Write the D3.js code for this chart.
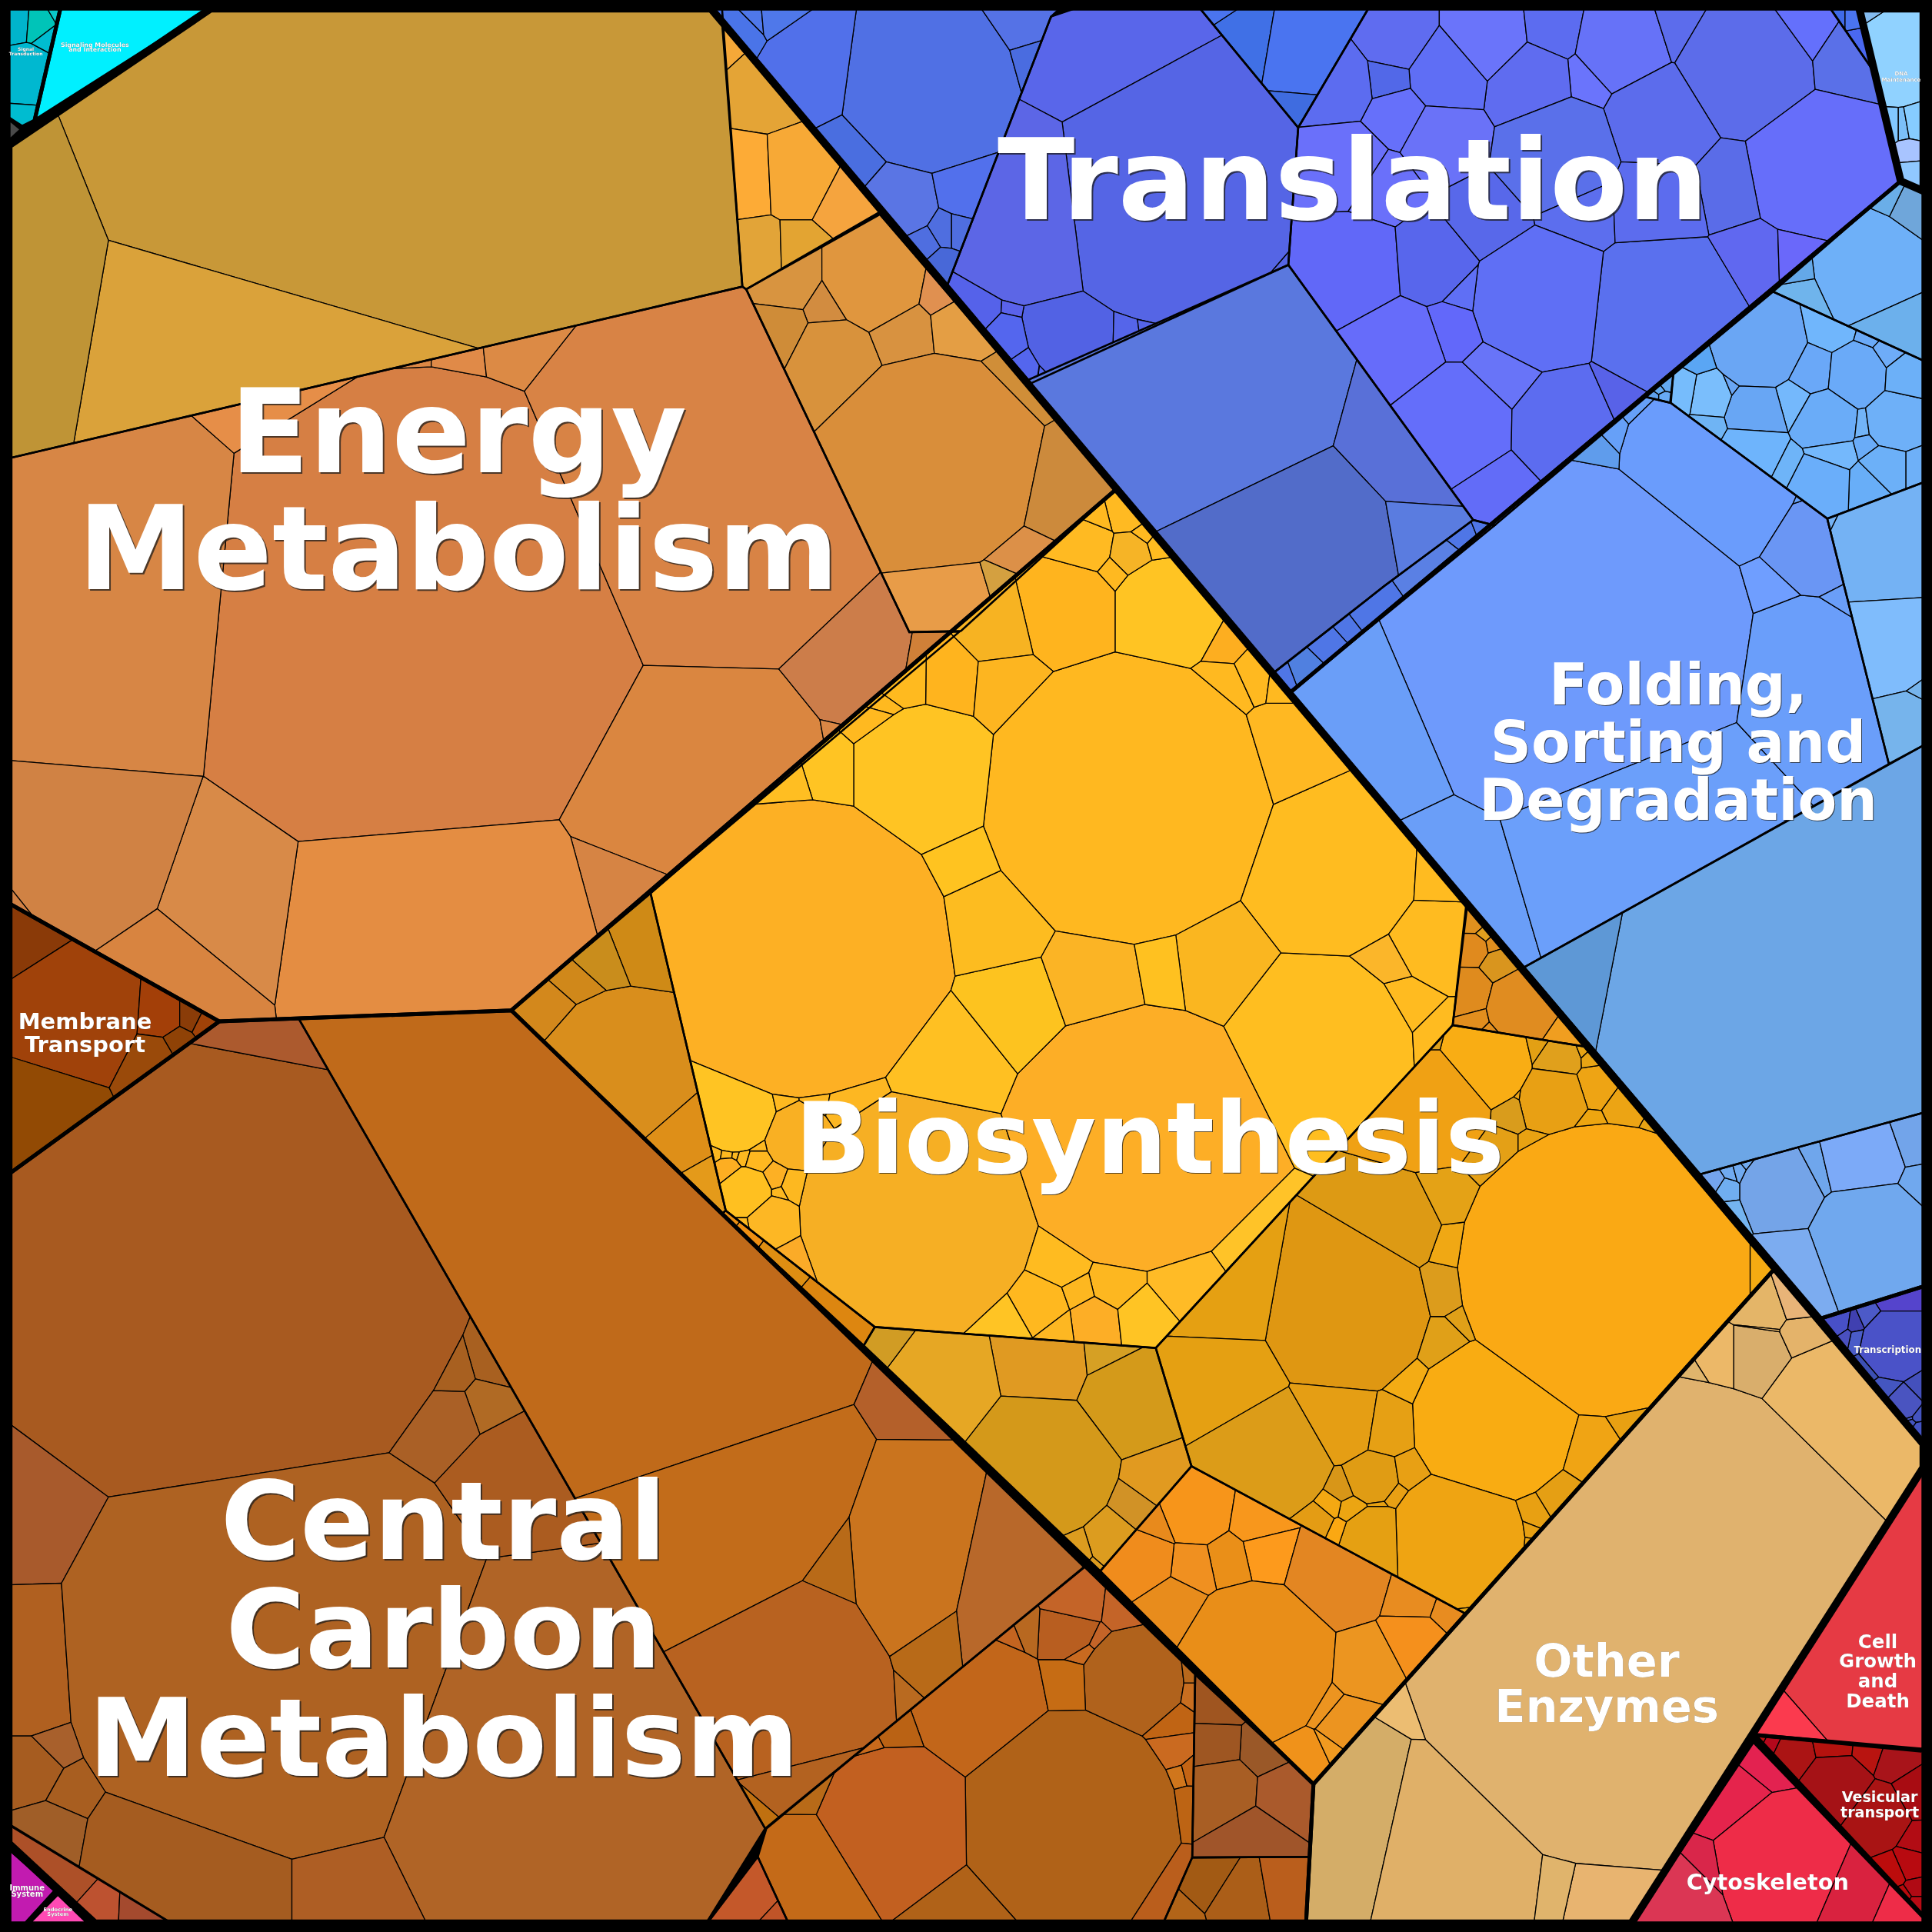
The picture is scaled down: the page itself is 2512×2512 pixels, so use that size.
<!DOCTYPE html>
<html>
<head>
<meta charset="utf-8">
<title>Voronoi treemap</title>
<script src="https://cdn.jsdelivr.net/npm/d3@7"></script>
<style>
  html, body { margin: 0; padding: 0; background: #000; }
  svg { display: block; }
  text { font-family: "DejaVu Sans", sans-serif; font-weight: bold; text-anchor: middle; }
</style>
</head>
<body>
<svg id="chart" width="2512" height="2512"></svg>
<script>
// picture units are 0..1568, a site is [x, y, r] of a power diagram cell
// its weight is r*|r|, so a negative r just means a negative weight

// ---- labels
var labelLines = [["Translation"], ["Energy", "Metabolism"], ["Central", "Carbon", "Metabolism"], ["Biosynthesis"],
    ["Folding,", "Sorting and", "Degradation"], ["Other", "Enzymes"], ["Membrane", "Transport"], ["Cell", "Growth", "and", "Death"],
    ["Vesicular", "transport"], ["Cytoskeleton"], ["Transcription"], ["DNA", "Maintenance"], ["Immune", "System"],
    ["Endocrine", "System"], ["Signaling Molecules", "and Interaction"], ["Signal", "Transduction"]];
var labelCenters = [1098, 372, 360, 933, 1362, 1304, 69, 1524, 1525.6, 1434.6, 1532, 1543, 22, 47, 77, 21];
var labelBaselines = [178, 383, 1265, 952, 572, 1361, 835, 1337.6, 1462.7, 1533.6, 1098, 61, 1534, 1551, 38, 41];
var labelSizes = [147, 151, 141, 129, 74, 59, 29, 24.5, 19.2, 28.7, 11.8, 7, 10, 6.7, 7.9, 6];
var labelLeading = [0, 152, 141, 0, 75, 59, 30, 25.6, 19.2, 0, 0, 8, 8, 6.4, 6.4, 6];

// ---- big dividing lines
var metabolismBorder = [[7,118],[171,7],[577,7],[1561,1172],[1561,1191],[1324,1561],[77,1561],[7,1496]];
var energyBorder = [[7,118],[171,7],[577,7],[906,397],[415,820],[178,829],[7,733]];
var membraneBorder = [[7,733],[178,829],[7,953]];
var carbonBorder = [[7,953],[178,829],[415,820],[1066,1448],[1060,1561],[77,1561],[7,1500]];
var biosynthesisBorder = [[906,397],[1440,1030],[1066,1448],[415,820]];
var enzymesBorder = [[1440,1030],[1561,1172],[1561,1191],[1324,1561],[1060,1561],[1066,1448]];
var translationBorder = [[577,7],[1509,7],[1542.6,147],[1046,563]];
var foldingBorder = [[1046,563],[1542.6,147],[1561,155],[1561,1044],[1478,1070]];
var transcriptionBorder = [[1478,1070],[1561,1044],[1561,1172]];
var dnaBorder = [[1509,7],[1561,7],[1561,155],[1542.6,147]];
var growthBorder = [[1561,1191],[1561,1420],[1423,1408]];
var vesicularBorder = [[1424,1408],[1561,1421],[1561,1555]];
var cytoskeletonBorder = [[1423,1413],[1561,1556],[1561,1561],[1324,1561]];
var signalBorder = [[7,7],[49,7],[28,98],[18,103],[7,96]];
var moleculesBorder = [[49,7],[171,7],[28,98]];
var greyBorder = [[7,96],[18,105],[7,115]];
var immuneBorder = [[7.7,1500],[45,1534.5],[21,1561],[7.7,1561]];
var endocrineBorder = [[47,1536.7],[72,1561],[23,1561]];

// ---- energy metabolism
var goldOutline = [[7,118],[171,7],[586,7],[602.5,232.6],[7,372]];
var goldSites = [[320,120,237.9],[272.4,283,197.2],[21.5,240,60]];
var goldTones = ["#c89838","#daa23a","#bf9436"];

var amberOutline = [[586,18],[714,172],[605.6,234.8],[602.5,232.6]];
var amberSites = [[620.5,66.6,18],[607.7,147.7,16],[649,145.7,24],[684,164,15],[615.7,204,14],[649,203,10],[587,30,3]];
var amberTones = ["#e4a436","#fdab36","#f7a936","#f5a43e","#e2a438","#e3a432","#f5a838"];

var ochreOutline = [[605.6,234.8],[714,174],[906,397],[780,512],[738,513]];
var ochreSites = [[636.4,229,17],[711.2,228.9,36],[762,239,10],[673,252.8,4],[631.6,268.4,16],[676.2,291.3,30],
    [733.5,268.4,20],[776.5,264.2,17],[758,375,85],[855,395,28],[812,322,12],[770,485,26],[826,456,8],[820,470,4]];
var ochreTones = ["#d89440","#e0963e","#e09050","#d28c40","#cf8c38","#d8923c",
    "#d89240","#e49e44","#d98e3a","#cc8a3c","#d08e38","#e89c48","#dc9048","#d4a040"];

var copperOutline = [[7,372],[602.5,232.6],[605.6,234.8],[738,513],[778.8,512.6],[415,820],[178,829],[7,733]];
var copperSites = [[335,490,200.2],[573.7,386.5,169.8],[81.3,466,159.8],[221.7,307,94],[325,270,65.4],[375,270,65.4],[420,265,70],
    [567.5,616.5,102.6],[694.3,513.4,75.5],[760,525,64],[675,597,12],[530,712,36],[357.4,759,115.3],[168.3,732,45],[62.4,695.3,79.8],
    [124,786,51.9],[0,745,59]];
var copperTones = ["#d67f44","#d88345","#d78645","#e68e48","#dc8845","#e08a48","#dc8a45",
    "#da8640","#cc7d4a","#d08038","#d98745","#d68444","#e48d42","#d88a48","#d08244",
    "#d88440","#d08044"];

// ---- membrane transport
var membraneSites = [[28,770,15],[60,820,50],[35,900,30],[132,825,12],[155,825,6],[165,830,4],[145,845,6],[128,855,7]];
var membraneTones = ["#8a3a08","#a0420a","#924a04","#a33f08","#8a3c08","#a04208","#8f4206","#9a4a0a"];

// ---- central carbon metabolism
var sepiaOutline = [[7,953],[178,829],[242,826],[621,1484],[573,1561],[139,1561],[7,1481]];
var sepiaSites = [[190,1030,204],[225.5,843.4,109],[32.9,1242.3,28],[37,1370,78],[241.5,1356,201.1],[467,1439,210],[437.3,1221,111],
    [408,1117,80.3],[400,1150,84.3],[372,1160,84.4],[373,1127,78.6],[420,1140,80],[54.9,1422,74],[37,1440,74.4],[76,1461.8,81.2],
    [56.3,1507.8,87.2],[178.8,1530,144.4],[283,1530,140]];
var sepiaTones = ["#a85a20","#ac5a2e","#a85a2c","#b06020","#ae6222","#b06426","#ab5c20",
    "#a86020","#b06a24","#aa6026","#a86020","#aa5e22","#a8602c","#a65c20","#a85e20",
    "#a05e28","#a55c20","#ae5e24"];

var rustOutline = [[7.7,1480.7],[139,1560.6],[77,1560.6],[7.7,1500]];
var rustSites = [[50,1520,12],[85.5,1552,5],[108,1553,6]];
var rustTones = ["#ad5028","#bd5230","#a44a2e"];

var caramelOutline = [[242,826],[415,820],[880,1272],[621,1484]];
var caramelSites = [[475,1030,190],[551.6,1257.5,101.6],[730.8,1320.8,22],[732.3,1140.3,-148.3],[833.4,1343,52.5],[647.2,1327.6,42],[620,1391,111.4],
    [752,1352,28.4],[722,1385,31],[635,1450,102.2],[620.7,1466.7,100.1]];
var caramelTones = ["#c06a1a","#c26c1a","#ca741e","#b4602a","#b8682a","#b86a18","#b86220",
    "#b86a18","#b96a20","#b36220","#c07010"];

var umberOutline = [[622,1484],[880,1271.5],[970,1359],[967.6,1507.5],[944,1561],[640,1561],[615,1507]];
var umberSites = [[795.2,1381.6,50],[870,1475,85],[724.2,1477,58],[663.3,1514.7,36],[920.4,1364.9,40],[868,1321,20],
    [873,1298.3,22],[906.8,1302.5,9],[876.4,1334.8,4],[882.5,1328,2],[868,1367,11],[828,1319,4],[820.6,1322,2],
    [947.4,1396,14],[950.8,1421,13],[956,1438.8,4],[964,1436.7,3.5],[962.7,1462.7,5],[964,1372,3.5],[964,1360,3],
    [955,1530,10],[722,1408,4.5],[707,1416,3],[664,1451,3],[782,1554,7]];
var umberTones = ["#c2661a","#b06218","#c26020","#c46a18","#b0621c","#b85e20",
    "#c46428","#c46428","#c86a20","#c46428","#c66c14","#b86820","#c46420",
    "#c06414","#ca6a20","#d0761c","#c46414","#bd6414","#c86e20","#b8681c",
    "#ba5e1c","#ba6214","#c86a1c","#b86a18","#b06218"];

var brickOutline = [[615,1507],[640,1561],[574,1561]];
var brickSites = [[610,1540,18],[624,1553,5]];
var brickTones = ["#c4582a","#c05428"];

var boxOutline = [[970,1359],[1066,1448],[1062.6,1507],[967.6,1507.5]];
var boxSites = [[991.4,1381.5,13],[1025,1421,17],[990,1418.9,15],[995,1452,24],[1041,1455,20],[1017,1490,20]];
var boxTones = ["#9f5520","#9a5828","#9e5622","#a85e24","#aa5a2c","#a0552a"];

var footOutline = [[967.6,1507.5],[1062.6,1507],[1060,1561],[944,1561]];
var footSites = [[981.3,1525,17],[954,1554,7],[1005,1540,20],[1045.5,1533,16]];
var footTones = ["#a25a14","#b26418","#ab5e18","#ba5e1c"];

// ---- biosynthesis
var yellowOutline = [[528,725],[906,397],[1191,733],[1179,832],[938,1094],[710,1077],[589,982.5]];
var yellowSites = [[915,648,115],[650,770,120],[745,985,95],[925,925,105],[1075,850,70],[750,630,55],[1082,705,65],
    [770,860,40],[820,820,32],[890,795,30],[804,748,32],[782,700,14],[985,780,28],[946,785,12],[1163,765,27],
    [1135,815,18],[1127,785,10],[1165,845,8],[1165,710,5],[1040,610,32],[948,497,43],[867,497,38],[812,510,25],
    [770,551.4,19],[734,551,18],[881.8,443,18],[915,414,14],[918,449.4,14],[940,443.2,6],[993,522,11],[990.5,557.6,16],
    [1018,545,9],[817.7,555.5,22],[905,462.5,3],[891,420,3],[929,434,2.5],[1040,548,3],[717,575,3],[672,630,14],
    [640,640,12],[715,582,5],[596,902,33],[646.8,922.6,25],[632.5,893.7,3],[665.8,890.6,7],[686.7,894.7,14],
    [581.8,935,3],[590,936.4,4],[597.3,937.5,2.5],[603.5,939.5,5],[613.7,942.6,8],[613.7,930,3],[591,948.9,9],
    [628.4,956,8],[605.6,967.5,20],[643,961.4,8],[631.8,967.5,2.5],[626,990.5,19],[643,1021.8,7],[605.6,994.4,2.5],
    [860.9,1021.6,20],[905.4,1040.3,17],[961,1040,23],[1007,1007,9],[843.3,1059,20],[824,1070,10],[875,1047.6,7],
    [888,1071.5,15],[929.3,1067,17],[856,1075.7,9]];
var yellowTones = ["#ffb820","#fdb024","#f6af24","#fdae26","#ffbe20","#ffc423","#ffbc20",
    "#ffc022","#fdc31f","#fbb425","#fdbc20","#ffc320","#fab620","#ffc120","#ffbb20",
    "#ffbb20","#fbb62a","#ffbb20","#ffbb20","#ffb822","#ffc423","#ffb41e","#f7b322",
    "#ffb41e","#ffba1f","#ffba22","#ffba22","#f6b426","#ffbc20","#fdae20","#ffb920",
    "#ffb920","#fdb520","#ffb920","#ffb920","#ffb920","#ffb920","#ffb920","#ffc423",
    "#ffbe22","#ffb920","#ffc423","#f9b023","#ffb920","#fdb722","#fdb722",
    "#fdb820","#fdb820","#fdb820","#fdb820","#ffb820","#fdb820","#fdae22",
    "#fdb024","#ffc020","#fdb820","#fdb820","#fdb724","#fbab28","#fdb820",
    "#ffbb20","#fdb720","#ffbb26","#ffc328","#ffb81f","#ffc424","#fdb720",
    "#fdae26","#ffc424","#fdb722"];

var mustardOutline = [[415,820],[528,725],[589,982.5],[586,985]];
var mustardSites = [[497,865,52],[560,937.4,8],[572.3,959,15],[513,757,13],[480,770,15],[462,790,5],[440,815,11]];
var mustardTones = ["#d98e1c","#de8f18","#e49a1a","#cf8a16","#c98d1c","#d0881a","#d3881c"];

var seamOutline = [[589,982.5],[710,1077],[701,1092],[586,985]];
var seamSites = [[593,988,3],[605.5,998.7,4],[632.5,1019.5,8],[678.5,1059,10]];
var seamTones = ["#e98e12","#ef8f12","#de8e12","#dd8610"];

var honeyOutline = [[710,1077],[938,1094],[967,1190],[893,1275],[701,1092]];
var honeySites = [[849.7,1108,27],[900,1103,9],[916.6,1136,34],[845,1190,55],[762,1125,36],[942,1206,14],[927.7,1226,8],
    [904,1254.6,17],[877,1263,4],[888,1273,4],[710,1086,3]];
var honeyTones = ["#e09a22","#d6a024","#d49a1a","#d4991a","#e6a724","#e19a20","#d19226",
    "#dc9c1f","#dc9c1f","#dc9c1f","#d19c24"];

var saffronOutline = [[938,1094],[1179,832],[1290,850],[1440,1030],[1190,1310],[967,1190]];
var saffronSites = [[1302,1030,118],[1212.8,1152.7,65],[1182.5,1250.4,55],[1117.2,1252.5,30],[1093.4,1065.3,65],
    [999.4,1048.6,40],[996.2,1121.5,37],[1031,1181.8,48],[1085.4,1150.6,33],[1125.2,1157,20],[1114,1200.5,19],
    [1171,1090,15],[1171.4,1047.6,14],[1179.3,1011,7],[1187.3,1073.6,2.5],[1142.7,1120.4,4],[1292.4,1175.6,19],
    [1265.3,1217,10],[1244.6,1229.7,7],[1239.8,1242,4],[1238,1254.6,5],[1225,1269,3],[1212.7,1278.6,4],[1203,1287,5],
    [1187.3,1296.2,9],[1163.4,1290,7],[1149,1284,3],[1088.6,1243,9],[1098,1226.5,10],[1117.2,1223,2.5],[1081,1223,5],
    [1071,1235,9],[1090,1210,5],[1143,1196,5],[1130,1213,4],[1135,995,30],[1204.8,861.5,37],[1265,861.5,18],
    [1249.5,851,8],[1293.2,882.3,17],[1290,860.4,6],[1284,854,3],[1260.9,892.7,28],[1227.6,901,10],[1234,889,4],
    [1163,851,4],[1163,897,45],[1319,901,16],[1215,935,14],[1175,975,8],[1250,935,15],[1290,915,13],[1436,1030,12],
    [1340,913,6],[1327,1153,13]];
var saffronTones = ["#faa914","#f9ac12","#efa412","#e5a012","#df9712",
    "#e5a012","#e5a012","#dc9c18","#e59e14","#e6a014","#e09c14",
    "#e0a018","#dc9c1c","#f0a814","#e0a018","#f4ac14","#f0a414",
    "#e59f14","#e8a012","#e8a012","#e8a012","#e8a012","#e8a012","#e8a012",
    "#e6a812","#d89a1c","#e6a012","#fba812","#eca512","#e6a012","#f4a812",
    "#e49c14","#d89618","#e8a014","#e8a014","#dd9a14","#f9ad14","#e0a01c",
    "#e3a014","#eea414","#e8a414","#e8a414","#e8a014","#d99c1c","#eea414",
    "#dea01c","#f0a114","#eca414","#e4a016","#e4a216","#e8a212","#eda510","#f5ab12",
    "#e6a314","#e8a012"];

var tangerineOutline = [[1190,734],[1290,850],[1179,832]];
var tangerineSites = [[1195.4,749,8],[1203.7,758.5,5],[1211,766.8,5],[1195,770,12],[1217,784.5,13],[1194,805.3,18],
    [1199,824,9],[1234,815.7,28],[1271,841,8],[1211,836,2.5]];
var tangerineTones = ["#e0901e","#e09f1e","#e08e1e","#e08a1e","#d9951e","#df8b1e",
    "#e28e1e","#e08c20","#f09e20","#e28e1e"];

var orangeOutline = [[967,1190],[1190,1310],[1066,1448],[893,1275]];
var orangeSites = [[970.7,1225.5,24],[1023.3,1234,18],[1029.6,1259.8,18],[997.8,1267,14],[967.5,1273.4,15],[926,1269,24],
    [937.3,1239,5],[950.8,1306.8,25],[1018.7,1348,62],[1085.4,1275.5,38],[1149,1293.8,12],[1177.7,1304,5],[1110,1355,24],
    [1148,1335,18],[1060,1429.6,15],[1098,1400,22],[1080,1385,5],[1085,1418,8]];
var orangeTones = ["#f7951a","#f8971c","#fd9a1c","#ea8f18","#f09020","#f08c1c",
    "#e88a1c","#e88c1c","#e98e18","#e38622","#e88c20","#e88c20","#ec9520",
    "#f5901c","#f0921a","#ec9420","#ec9420","#f09a20"];

// ---- other enzymes
var enzymesSites = [[1330,1310,185],[1482.3,1155,-57.1],[1404,1097.6,-65.7],[1381.7,1097.6,-60.7],[1410,1050,-64.6],[1449.4,1076.6,-78.6],
    [1445,1038,-71.4],[1407.7,1072,-69.3],[1455.5,1099.7,-82.8],[1370,1105,-61.1],[1058.7,1501.7,100],[1132,1380.6,-67.1],[1127,1517,76.3],
    [1311.7,1544.3,-84.9],[1270,1535,-93.4]];
var enzymesTones = ["#e0b26e","#ebb868","#d9ae6c","#ecb868","#e4b568","#e4b36a",
    "#e8b478","#e4b568","#e4b568","#e0b56c","#d4ad68","#ecbd72","#e0b068",
    "#e8b470","#e0b46c"];

// ---- translation
var skyOutline = [[577,7],[860,7],[853,13.5],[768.6,232]];
var skySites = [[756,68.7,68],[655,55,32],[826,20.8,16],[834,47,8],[601,23,8],[612.6,11.5,4],[624,10.5,4],[692,129,10],
    [732,164,24],[783,154,18],[768,187,6],[749,198.7,6],[775,187,5],[765,216.5,9]];
var skyTones = ["#5070e4","#5170ea","#5572e6","#4a6ce0","#4a74e8","#4f78ea","#4f78ea","#4a6ee0",
    "#5a75e4","#5270ec","#4f6ee0","#4f6ee0","#4f6ee0","#4868d8"];

var indigoOutline = [[853,13.5],[872,7],[974,7],[1053.6,103.6],[1045.6,215],[837,311],[768.6,232]];
var indigoSites = [[905,45,42],[957.5,141.7,89.1],[846.5,155.5,20.8],[874.4,267,-78.6],[789,255,-87.9],[820,257,-90.6],[815,280,-87.1],
    [915,268,-83.1],[930,266,-83.4],[843,298,-89.5],[833,297,-88.9],[826,296,-87.8],[1040,213,-60.8],[855,10.6,-43]];
var indigoTones = ["#5966ea","#5565e5","#5c66e6","#5262e4","#5562ea","#5a62ea","#5466ee",
    "#5565ea","#5565ea","#5466ee","#5466ee","#5466ee","#5565e5","#5572e6"];

var cobaltOutline = [[974,7],[1110.5,7],[1053.6,103.6]];
var cobaltSites = [[1004,37.6,25],[1052,45.8,24],[1048,93.6,6],[987.6,12.7,5]];
var cobaltTones = ["#4070e6","#4a74f0","#3f6ce0","#4a74ee"];

var violetOutline = [[1053.6,103.6],[1110.5,7],[1485.6,7],[1520,57],[1542.6,147],[1213,426.4],[1195.6,422],[1045.6,215]];
var violetSites = [[1134,30.7,24],[1206.7,30.7,30],[1260,25,18],[1316.7,36.2,34],[1360.4,22.3,13],[1417,55.7,52],[1459,25,22],
    [1494.6,48.8,17],[1475,133.8,55],[1404,147.7,22],[1352.3,256.4,60],[1425,213,17],[1457,212,11],[1349,97.5,40],
    [1287.6,62.7,9],[1242.3,66.9,30],[1174.4,58.5,28],[1127.5,62,11],[1135.6,92,15],[1087,66.9,22],[1093.5,134,24],
    [1171,111.5,24],[1265,125,44],[1119,150.5,15],[1097,217,35],[1164,212,26],[1205,178,22],[1281,161.6,22],[1346,159,32],
    [1248.8,245,52],[1190.6,238,3],[1181.5,267.6,14],[1134,284,33],[1180.9,344,45],[1218,305,24],[1268,345.6,40],
    [1214.8,395.8,24],[1315,324.7,9]];
var violetTones = ["#5f6cf0","#6a74fa","#5c6cf0","#6672f8","#5c6cec","#5c6cea","#6470fc",
    "#5a70e8","#666efa","#5a6ce8","#5a70ee","#6068f0","#6a68fa","#5c6cec",
    "#6a74fc","#5f6cf0","#5f6ef5","#5268e8","#6670fa","#5c6cf0","#6a70fa",
    "#6a72f8","#5a70ea","#6a70fa","#6168f8","#5866ec","#5868ea","#5c6eee","#5c6cee",
    "#5f6ff5","#5f6ff5","#6268fa","#666cfa","#646efa","#6874f8","#5c6cf0",
    "#626cf8","#5862e8"];

var cornerOutline = [[1485.6,7],[1509,7],[1520,57]];
var cornerSites = [[1507,36,6],[1493,12.5,3],[1502.6,12.5,4]];
var cornerTones = ["#4a68f0","#3f6ae8","#4a74f0"];

var slateOutline = [[833,309],[1045.6,215],[1195.6,422],[1123,476],[1035,545],[1031,545]];
var slateSites = [[960,310,110],[1143.2,360,-41.7],[1034,463,84],[1137.8,444.8,-51.7]];
var slateTones = ["#5a78de","#5970d8","#526cc9","#5a7ce0"];

var stripOutline = [[1195.6,422],[1213,426.4],[1046,563],[1031,545],[1035,545],[1123,476]];
var stripSites = [[1165,460,14],[1108.6,499.4,9],[1094.9,510,5],[1079,524.3,10],[1061,543,9],[1040,551,3],[1190,428,3],[1200,424,3]];
var stripTones = ["#5a80e4","#4f76e6","#4f76e6","#4f76e6","#5080e0","#4f76e6","#4f76e6","#4f76e6"];

// ---- folding, sorting and degradation
var plainOutline = [[1046,563],[1335,322],[1356,327],[1483,421],[1533,620],[1237,785]];
var plainSites = [[1265,515,118],[1104,584,-26.5],[1164.5,710.8,-75],[1324.8,663.3,32],[1454.4,543.8,-90.6],[1381,371,-43.6],[1465.6,424.3,-92.1],
    [1425,468,-102],[1494,480,-109],[1311,349.8,-77.3],[1293,367,-76.6],[1338,327,-74.6],[1459,405,-93.8]];
var plainTones = ["#6e9afc","#6a9ef8","#6a9ef8","#6b9ffa","#6a9efa","#6a9cfc","#6a96f4",
    "#6f9eff","#6a9ef8","#66a0f8","#5f9cec","#66a0f8","#66a0f8"];

var tinyOutline = [[1358,304],[1356,327],[1335,322]];
var tinySites = [[1347,316,3],[1350,322,3],[1343,322,2],[1352,312,4]];
var tinyTones = ["#60a8f0","#68aaf4","#5ea0ec","#64aaf0"];

var mosaicOutline = [[1439,236.7],[1561,292.7],[1561,391.5],[1483,420.8],[1355.5,326.6],[1358,304]];
var mosaicSites = [[1427.3,278.3,37],[1485.6,266.3,16],[1471,301,18],[1507.4,304.6,25],[1455.4,325,14],[1425.3,333.3,22],
    [1482.5,340.5,24],[1514.3,344,7],[1539.7,340.5,25],[1532,288,12],[1547,307,19],[1486.6,368,15],[1531.4,378.7,17],
    [1514.7,395.5,15],[1477.3,394.3,24],[1423,366.8,23],[1449.2,380,9],[1386.8,320,17],[1367,316.6,14],[1378.4,294,6],
    [1384.7,345,6],[1401.3,314,2],[1517.4,359.6,3],[1518.5,275.4,3],[1554,378.7,10]];
var mosaicTones = ["#6aa6f4","#70b6fc","#6aa8f8","#6aaaf8","#74b8fc","#68a6f4",
    "#6aacf8","#72b4f8","#6eb0f8","#6eacf8","#6cb0f8","#74b8fc","#6cb0f8",
    "#68aef8","#6aaefa","#6eb4fc","#6eb4f8","#7abefc","#76bcfc","#5aa6f4",
    "#6fb4f4","#6aa6f4","#6aacf8","#6aaaf8","#6eb0f8"];

var paleOutline = [[1542.6,147],[1561,155],[1561,292.7],[1439,236.7]];
var paleSites = [[1514,214.6,40],[1536.6,264.8,16],[1460.6,239.7,10],[1457.4,221.6,5],[1549.6,164.4,10],[1538.2,158.9,4]];
var paleTones = ["#6eb0f8","#6cb0ec","#6fb4ec","#64a8e8","#6fa6da","#6aaee8"];

var columnOutline = [[1483,421],[1561,391.5],[1561,605],[1533,620]];
var columnSites = [[1525,445,42],[1530,525,38],[1545,590,27],[1488,427,4],[1558,565,3]];
var columnTones = ["#74b2f4","#7fbcfc","#76b4ec","#74b2f4","#76b4ec"];

var lakeOutline = [[1237,785],[1561,605],[1561,903],[1380,953]];
var lakeSites = [[1417,818.5,110],[1270,790,25]];
var lakeTones = ["#6ca6e6","#5e98d6"];

var shoreOutline = [[1380,953],[1561,903],[1561,1044],[1478,1070]];
var shoreSites = [[1444,965.4,31],[1475.3,948.8,11],[1510.6,940.5,31],[1519,1005,46],[1450.3,1030,28],[1552,926,11],
    [1558.5,962.3,3],[1400.4,965.4,8],[1392,960,7],[1402.5,982,4],[1404.5,952,3],[1412,950,4],[1418,945,3]];
var shoreTones = ["#74a4e8","#6fa6ec","#7caaf8","#70a8ee","#7cacf0","#72a4ea",
    "#70a8ee","#70aef0","#74a4ee","#74b4f0","#70aaf0","#70aaf0","#70aaf0"];

// ---- smaller groups round the edge
var transcriptionSites = [[1537.7,1057,7],[1492,1073.6,8],[1537.7,1092,28],[1506.5,1075.7,6],[1516,1071.5,6],[1508.5,1086,7],
    [1499,1084,3],[1519,1108,9],[1531.5,1125.7,8],[1545,1139,13],[1558.5,1125.7,8],[1548,1148,5],[1556.4,1148,5],
    [1558.5,1161,6],[1550,1155,2.5]];
var transcriptionTones = ["#5544cc","#4850c8","#4a52c8","#4040b0","#4c5ac8","#4a5cc8",
    "#4a50c0","#3c50b4","#4456c0","#4a54c0","#4450bc","#4a5ac0","#4454c0",
    "#4454c4","#4454c0"];

var dnaSites = [[1538,47.4,37],[1516,14,5],[1535,101.7,5],[1544.7,101.7,3],[1554.4,100,7],[1549.6,125,5],[1551,142,10]];
var dnaTones = ["#90d2ff","#84bcf0","#82c8ff","#7cc0f8","#86ccff","#a8c4ff","#90c8ff"];

var growthSites = [[1510,1340,68],[1449.5,1393,12]];
var growthTones = ["#e63a44","#fb3a4e"];

var vesicularSites = [[1427.4,1412.9,4],[1435.7,1417,5],[1453.4,1425.3,13],[1487.8,1418,4],[1519,1421.2,3],[1535.6,1427,6],
    [1489.8,1452.4,26],[1521,1475.3,24],[1554.3,1456.5,8],[1556,1497,4],[1551.8,1513.8,11],[1537.7,1520,8],[1555.4,1531.5,7],
    [1545,1538.7,4],[1555.4,1545,5]];
var vesicularTones = ["#b81010","#b4081c","#ab1414","#b5120e","#b81410","#a8141a",
    "#a51216","#a91414","#a80c12","#b20c14","#b80a10","#bc0c0c","#b00a14",
    "#b80a0c","#b80a14"];

var cytoskeletonSites = [[1430.5,1433.7,8],[1406.6,1462.8,25],[1444,1508.6,50],[1369.2,1535.6,20],[1385.8,1518.9,8],
    [1506.5,1535.6,23],[1534.6,1548,11]];
var cytoskeletonTones = ["#e32250","#e5244c","#ee2c48","#db3654","#d9264a","#d9223f","#ee2c48"];

var signalSites = [[14.6,15.6,8],[33,17,10],[22.9,60,18],[42.6,11.4,3],[40.6,27,2.5],[20,102,2]];
var signalTones = ["#00b4cc","#00c4b8","#00b8d0","#0ac8c8","#00bcd0","#00bcd0"];

// ---- table of everything that gets cut into cells
var regions = [
    [goldOutline, goldSites, goldTones], [amberOutline, amberSites, amberTones], [ochreOutline, ochreSites, ochreTones],
    [copperOutline, copperSites, copperTones], [membraneBorder, membraneSites, membraneTones],
    [sepiaOutline, sepiaSites, sepiaTones], [rustOutline, rustSites, rustTones], [caramelOutline, caramelSites, caramelTones],
    [umberOutline, umberSites, umberTones], [brickOutline, brickSites, brickTones], [boxOutline, boxSites, boxTones],
    [footOutline, footSites, footTones], [yellowOutline, yellowSites, yellowTones], [mustardOutline, mustardSites, mustardTones],
    [seamOutline, seamSites, seamTones], [honeyOutline, honeySites, honeyTones], [saffronOutline, saffronSites, saffronTones],
    [tangerineOutline, tangerineSites, tangerineTones], [orangeOutline, orangeSites, orangeTones],
    [enzymesBorder, enzymesSites, enzymesTones], [skyOutline, skySites, skyTones], [indigoOutline, indigoSites, indigoTones],
    [cobaltOutline, cobaltSites, cobaltTones], [violetOutline, violetSites, violetTones], [cornerOutline, cornerSites, cornerTones],
    [slateOutline, slateSites, slateTones], [stripOutline, stripSites, stripTones], [plainOutline, plainSites, plainTones],
    [tinyOutline, tinySites, tinyTones], [mosaicOutline, mosaicSites, mosaicTones], [paleOutline, paleSites, paleTones],
    [columnOutline, columnSites, columnTones], [lakeOutline, lakeSites, lakeTones], [shoreOutline, shoreSites, shoreTones],
    [transcriptionBorder, transcriptionSites, transcriptionTones], [dnaBorder, dnaSites, dnaTones],
    [growthBorder, growthSites, growthTones], [vesicularBorder, vesicularSites, vesicularTones],
    [cytoskeletonBorder, cytoskeletonSites, cytoskeletonTones], [signalBorder, signalSites, signalTones],
    [moleculesBorder, [[90,40,30]], ["#00f0ff"]], [greyBorder, [[11,105,5]], ["#4a4a4a"]],
    [immuneBorder, [[20,1540,15]], ["#c21bb0"]], [endocrineBorder, [[47,1550,10]], ["#ff4ab4"]]
];

var thinBorders = regions.map(function (d) { return d[0]; });
var midBorders = [energyBorder, membraneBorder, carbonBorder, biosynthesisBorder, enzymesBorder, translationBorder,
    foldingBorder, transcriptionBorder, growthBorder, vesicularBorder, cytoskeletonBorder, signalBorder, moleculesBorder,
    greyBorder, immuneBorder, endocrineBorder];
var heavyBorders = [metabolismBorder, dnaBorder];

var x = d3.scaleLinear().domain([0, 1568]).range([0, 2512]);
var y = d3.scaleLinear().domain([0, 1568]).range([0, 2512]);
var svg = d3.select("#chart");
var line = d3.line().x(function (p) { return x(p[0]); }).y(function (p) { return y(p[1]); });

// keep the part of the polygon where a*px + b*py <= c
function clipHalfPlane(poly, a, b, c) {
    var out = [];
    for (var i = 0; i < poly.length; i++) {
        var p = poly[i], q = poly[(i + 1) % poly.length];
        var dp = a * p[0] + b * p[1] - c, dq = a * q[0] + b * q[1] - c;
        if (dp <= 0) out.push(p);
        if ((dp < 0 && dq > 0) || (dp > 0 && dq < 0)) {
            var t = dp / (dp - dq);
            out.push([p[0] + t * (q[0] - p[0]), p[1] + t * (q[1] - p[1])]);
        }
    }
    return out;
}

function weight(site) {
    return site[2] * Math.abs(site[2]);
}

// one cell of the power diagram of the sites, inside the outline
function powerCell(site, sites, outline) {
    var poly = outline;
    sites.forEach(function (other) {
        if (other === site) return;
        var a = 2 * (other[0] - site[0]);
        var b = 2 * (other[1] - site[1]);
        var c = other[0] * other[0] + other[1] * other[1] - weight(other)
            - site[0] * site[0] - site[1] * site[1] + weight(site);
        poly = clipHalfPlane(poly, a, b, c);
    });
    return poly;
}

var cells = [];
regions.forEach(function (region) {
    region[1].forEach(function (site, i) {
        var poly = powerCell(site, region[1], region[0]);
        if (poly.length > 2) cells.push({ poly: poly, tone: region[2][i] || region[2][0] });
    });
});

svg.append("g").selectAll("path").data(cells).join("path")
    .attr("d", function (d) { return line(d.poly) + "Z"; })
    .attr("fill", function (d) { return d.tone; })
    .attr("stroke", "#000")
    .attr("stroke-width", 1.3)
    .attr("stroke-linejoin", "round");

function drawBorders(list, width) {
    svg.append("g").selectAll("path").data(list).join("path")
        .attr("d", function (d) { return line(d) + "Z"; })
        .attr("fill", "none")
        .attr("stroke", "#000")
        .attr("stroke-width", width)
        .attr("stroke-linejoin", "miter");
}
drawBorders(thinBorders, 2.6);
drawBorders(midBorders, 5);
drawBorders(heavyBorders, 10);

// black frame
svg.append("rect")
    .attr("x", 0).attr("y", 0)
    .attr("width", 2512).attr("height", 2512)
    .attr("fill", "none").attr("stroke", "#000").attr("stroke-width", 24);

// labels, the shadow is a filter so that each word is one text
var labels = labelLines.map(function (lines, i) {
    return { lines: lines, cx: labelCenters[i], base: labelBaselines[i], size: labelSizes[i], lead: labelLeading[i] };
});
var groups = svg.append("g").selectAll("g").data(labels).join("g")
    .style("filter", function (d) {
        var off = Math.max(0.7, d.size * 0.015);
        return "drop-shadow(" + off + "px " + off + "px 0 rgba(30,30,30,0.75))";
    });
groups.each(function (d) {
    d3.select(this).selectAll("text").data(d.lines).join("text")
        .attr("x", x(d.cx))
        .attr("y", function (t, i) { return y(d.base) + i * d.lead; })
        .attr("font-size", d.size)
        .attr("fill", "#fff")
        .text(function (t) { return t; });
});
</script>
</body>
</html>
